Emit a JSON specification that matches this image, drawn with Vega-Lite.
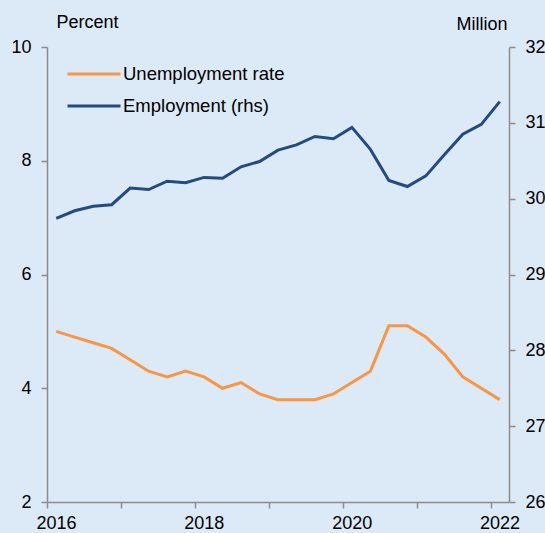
{
  "$schema": "https://vega.github.io/schema/vega-lite/v6.json",
  "width": 462,
  "height": 455,
  "autosize": {"type": "none"},
  "padding": {"left": 47, "top": 47, "right": 36, "bottom": 31},
  "background": "#dce9f7",
  "config": {
    "view": {"stroke": null},
    "font": "Liberation Sans",
    "axis": {
      "grid": false,
      "domainColor": "#8c8c8c",
      "domainWidth": 1.5,
      "tickColor": "#8c8c8c",
      "tickWidth": 1.5,
      "tickSize": 6,
      "labelFont": "Liberation Sans",
      "labelFontSize": 18,
      "labelColor": "#000000",
      "titleFont": "Liberation Sans",
      "titleFontSize": 18,
      "titleFontWeight": "normal",
      "titleColor": "#000000"
    },
    "legend": {
      "labelFont": "Liberation Sans",
      "labelFontSize": 18.5,
      "labelColor": "#000000",
      "labelLimit": 400
    }
  },
  "datasets": {
    "unemp": [
      {"t": 2016.125, "series": "Unemployment rate", "value": 5.0},
      {"t": 2016.375, "series": "Unemployment rate", "value": 4.9},
      {"t": 2016.625, "series": "Unemployment rate", "value": 4.8},
      {"t": 2016.875, "series": "Unemployment rate", "value": 4.7},
      {"t": 2017.125, "series": "Unemployment rate", "value": 4.5},
      {"t": 2017.375, "series": "Unemployment rate", "value": 4.3},
      {"t": 2017.625, "series": "Unemployment rate", "value": 4.2},
      {"t": 2017.875, "series": "Unemployment rate", "value": 4.3},
      {"t": 2018.125, "series": "Unemployment rate", "value": 4.2},
      {"t": 2018.375, "series": "Unemployment rate", "value": 4.0},
      {"t": 2018.625, "series": "Unemployment rate", "value": 4.1},
      {"t": 2018.875, "series": "Unemployment rate", "value": 3.9},
      {"t": 2019.125, "series": "Unemployment rate", "value": 3.8},
      {"t": 2019.375, "series": "Unemployment rate", "value": 3.8},
      {"t": 2019.625, "series": "Unemployment rate", "value": 3.8},
      {"t": 2019.875, "series": "Unemployment rate", "value": 3.9},
      {"t": 2020.125, "series": "Unemployment rate", "value": 4.1},
      {"t": 2020.375, "series": "Unemployment rate", "value": 4.3},
      {"t": 2020.625, "series": "Unemployment rate", "value": 5.1},
      {"t": 2020.875, "series": "Unemployment rate", "value": 5.1},
      {"t": 2021.125, "series": "Unemployment rate", "value": 4.9},
      {"t": 2021.375, "series": "Unemployment rate", "value": 4.6},
      {"t": 2021.625, "series": "Unemployment rate", "value": 4.2},
      {"t": 2021.875, "series": "Unemployment rate", "value": 4.0},
      {"t": 2022.125, "series": "Unemployment rate", "value": 3.8}
    ],
    "emp": [
      {"t": 2016.125, "series": "Employment (rhs)", "value": 29.74},
      {"t": 2016.375, "series": "Employment (rhs)", "value": 29.84},
      {"t": 2016.625, "series": "Employment (rhs)", "value": 29.90},
      {"t": 2016.875, "series": "Employment (rhs)", "value": 29.92},
      {"t": 2017.125, "series": "Employment (rhs)", "value": 30.14},
      {"t": 2017.375, "series": "Employment (rhs)", "value": 30.12},
      {"t": 2017.625, "series": "Employment (rhs)", "value": 30.23},
      {"t": 2017.875, "series": "Employment (rhs)", "value": 30.21},
      {"t": 2018.125, "series": "Employment (rhs)", "value": 30.28},
      {"t": 2018.375, "series": "Employment (rhs)", "value": 30.27},
      {"t": 2018.625, "series": "Employment (rhs)", "value": 30.42},
      {"t": 2018.875, "series": "Employment (rhs)", "value": 30.49},
      {"t": 2019.125, "series": "Employment (rhs)", "value": 30.64},
      {"t": 2019.375, "series": "Employment (rhs)", "value": 30.71},
      {"t": 2019.625, "series": "Employment (rhs)", "value": 30.82},
      {"t": 2019.875, "series": "Employment (rhs)", "value": 30.79},
      {"t": 2020.125, "series": "Employment (rhs)", "value": 30.94},
      {"t": 2020.375, "series": "Employment (rhs)", "value": 30.65},
      {"t": 2020.625, "series": "Employment (rhs)", "value": 30.24},
      {"t": 2020.875, "series": "Employment (rhs)", "value": 30.16},
      {"t": 2021.125, "series": "Employment (rhs)", "value": 30.30},
      {"t": 2021.375, "series": "Employment (rhs)", "value": 30.58},
      {"t": 2021.625, "series": "Employment (rhs)", "value": 30.85},
      {"t": 2021.875, "series": "Employment (rhs)", "value": 30.98},
      {"t": 2022.125, "series": "Employment (rhs)", "value": 31.28}
    ]
  },
  "encoding": {
    "x": {
      "field": "t",
      "type": "quantitative",
      "scale": {"domain": [2016, 2022.25], "nice": false, "zero": false},
      "axis": {
        "title": null,
        "values": [2016, 2017, 2018, 2019, 2020, 2021, 2022],
        "labelExpr": "datum.value % 2 == 0 ? datum.value : ''",
        "labelOffset": 9,
        "labelPadding": 6,
        "labelFlush": false,
        "labelOverlap": false
      }
    },
    "color": {
      "field": "series",
      "type": "nominal",
      "scale": {
        "domain": ["Unemployment rate", "Employment (rhs)"],
        "range": ["#f79646", "#234b80"]
      },
      "legend": {
        "title": null,
        "orient": "none",
        "legendX": 19,
        "legendY": 11,
        "padding": 0,
        "symbolType": "stroke",
        "symbolSize": 2809,
        "symbolStrokeWidth": 3,
        "clipHeight": 32,
        "rowPadding": 0,
        "labelOffset": 1,
        "labelLimit": 400
      }
    }
  },
  "layer": [
    {
      "data": {"name": "unemp"},
      "mark": {"type": "line", "strokeWidth": 3},
      "encoding": {
        "y": {
          "field": "value",
          "type": "quantitative",
          "scale": {"domain": [2, 10], "nice": false, "zero": false},
          "axis": {
            "orient": "left",
            "values": [2, 4, 6, 8, 10],
            "labelPadding": 10,
            "title": "Percent",
            "titleAngle": 0,
            "titleAlign": "left",
            "titleBaseline": "alphabetic",
            "titleX": 9,
            "titleY": -20
          }
        }
      }
    },
    {
      "data": {"name": "emp"},
      "mark": {"type": "line", "strokeWidth": 3},
      "encoding": {
        "y": {
          "field": "value",
          "type": "quantitative",
          "scale": {"domain": [26, 32], "nice": false, "zero": false},
          "axis": {
            "orient": "right",
            "values": [26, 27, 28, 29, 30, 31, 32],
            "labelPadding": 10,
            "title": "Million",
            "titleAngle": 0,
            "titleAlign": "right",
            "titleBaseline": "alphabetic",
            "titleX": -2,
            "titleY": -18
          }
        }
      }
    }
  ],
  "resolve": {"scale": {"y": "independent"}}
}
